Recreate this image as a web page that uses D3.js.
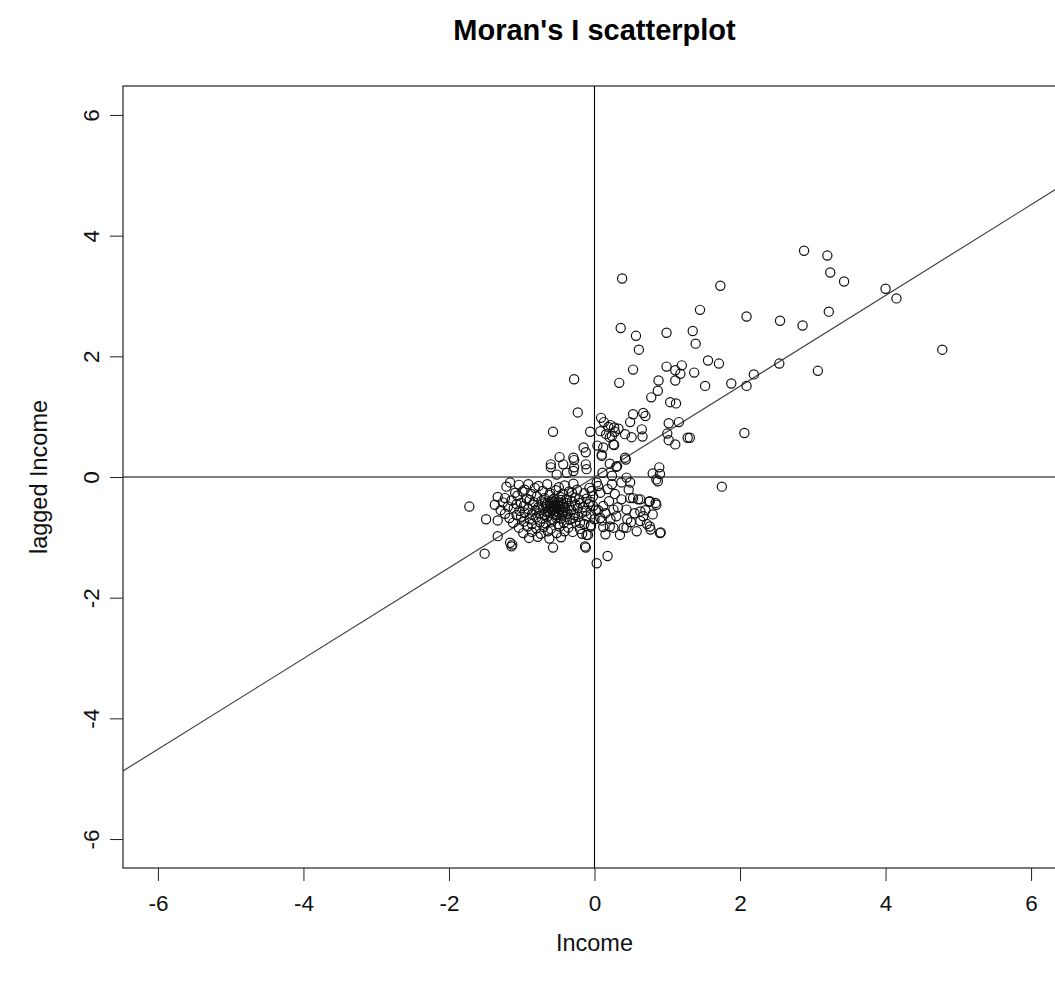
<!DOCTYPE html>
<html>
<head>
<meta charset="utf-8">
<script src="https://cdn.jsdelivr.net/npm/d3@7"></script>
<style>
  body { margin: 0; background: #fff; }
  svg { display: block; font-family: "Liberation Sans", Arial, sans-serif; }
  .tick text { font-size: 22.5px; fill: #111; }
  .tick line { stroke: #222; }
</style>
</head>
<body>
<svg id="chart" width="1055" height="983"></svg>
<script>
// Moran's I scatterplot: standardized income (x) vs spatially lagged income (y)
var xTicks = [-6, -4, -2, 0, 2, 4, 6];
var yTicks = [-6, -4, -2, 0, 2, 4, 6];
var lagSlope = 0.752, lagIntercept = 0.0;

// high income, high neighbours
var upperRight = [
  [0.38,3.29],[2.88,3.75],[3.20,3.67],[3.24,3.39],[3.43,3.24],[1.73,3.17],[4.00,3.12],[4.15,2.96],
  [1.45,2.77],[2.09,2.66],[2.55,2.59],[2.86,2.51],[3.22,2.74],[4.78,2.11],[0.36,2.47],[0.57,2.34],
  [0.61,2.11],[0.99,2.39],[1.35,2.42],[1.39,2.21],[1.56,1.93],[1.71,1.88],[0.53,1.78],[0.99,1.83],
  [1.20,1.85],[1.37,1.73],[1.11,1.77],[1.18,1.71],[1.11,1.60],[0.88,1.60],[0.34,1.56],[1.52,1.51],
  [1.88,1.55],[2.09,1.51],[2.19,1.70],[2.54,1.88],[3.07,1.76],[0.87,1.43],[0.78,1.32],[1.04,1.24],
  [1.12,1.22],[2.06,0.73],[1.28,0.65],[1.31,0.65],[1.02,0.89],[1.16,0.91],[1.00,0.72],[1.02,0.61],
  [1.11,0.54],[0.67,1.06],[0.70,1.01],[0.53,1.04],[0.49,0.91],[0.42,0.71],[0.51,0.66],[0.65,0.79],
  [0.66,0.67],[0.43,0.29],[0.89,0.16]
];

// points around the origin
var nearCentre = [
  [-0.28,1.62],[-0.23,1.07],[0.09,0.98],[0.27,0.82],[0.13,0.91],[0.19,0.83],[0.28,0.75],[0.24,0.68],
  [-0.06,0.75],[-0.57,0.75],[0.08,0.76],[0.21,0.66],[0.12,0.49],[0.26,0.54],[0.27,0.53],[-0.15,0.49],
  [-0.12,0.41],[0.10,0.37],[-0.48,0.33],[-0.28,0.28],[-0.29,0.32],[-0.60,0.21],[-0.60,0.16],[-0.43,0.21],
  [-0.28,0.16],[-0.12,0.21],[0.21,0.22],[0.30,0.17],[0.42,0.32],[0.11,0.07],[0.24,0.02],[0.44,-0.01],
  [0.80,0.06],[0.87,-0.07],[0.90,0.05],[0.85,-0.04],[0.49,-0.09],[1.75,-0.16],[-0.52,0.04],[-0.38,0.07],
  [0.24,-0.12],[0.37,-0.09],[0.47,-0.21],[-0.11,0.13],[-0.29,0.10],[0.31,0.18],[0.10,0.35],
  [0.33,0.80],[0.22,0.86],[0.16,0.71],[0.04,0.52]
];

// low income, low neighbours
var cluster = [
  [-1.72,-0.49],[-1.49,-0.70],[-1.33,-0.33],[-1.33,-0.72],[-1.33,-0.98],[-1.51,-1.27],[-1.16,-0.09],
  [-1.16,-1.09],[-1.13,-1.12],[-1.14,-1.15],[-0.57,-1.17],[-0.12,-1.17],[0.03,-1.43],[0.18,-1.31],
  [-0.41,-0.90],[-0.09,-0.96],[0.12,-0.83],[0.26,-0.84],[0.91,-0.92],[0.77,-0.87],[0.84,-0.43],
  [0.75,-0.41],[0.60,-0.37],[0.53,-0.35],[0.40,-0.84],[0.37,-0.37],[0.49,-0.35],[0.63,-0.37],
  [0.76,-0.40],[0.85,-0.46],[0.26,-0.54],[0.44,-0.54],[0.63,-0.57],[0.67,-0.65],[0.63,-0.73],
  [0.76,-0.82],[0.90,-0.93],[0.58,-0.90],[0.44,-0.84],[0.35,-0.96],[0.21,-0.82],[-0.11,-0.96],
  [-0.13,-1.15],[0.03,-0.09],[-0.02,-0.32],[0.08,-0.26],[0.12,-0.48],[-0.02,-0.48],[-0.11,-0.65],
  [0.08,-0.68],[-0.20,-0.76],[-0.34,-0.71],[-0.43,-0.59],[-0.38,-0.37],[-0.24,-0.21],[-0.20,-0.43],
  [-0.31,-0.26],[-0.96,-0.21],[-0.82,-0.18],[-0.91,-0.12],
  [-1.21,-0.16],[-1.04,-0.13],[-0.77,-0.15],[-0.65,-0.12],[-0.49,-0.17],[-0.41,-0.14],[-0.29,-0.11],[-0.07,-0.18],
  [-1.09,-0.26],[-0.99,-0.24],[-0.87,-0.28],[-0.71,-0.23],[-0.61,-0.27],[-0.53,-0.22],[-0.44,-0.28],[-0.35,-0.24],
  [-0.14,-0.27],[-0.04,-0.23],[-1.23,-0.35],[-1.06,-0.31],[-0.93,-0.36],[-0.79,-0.32],[-0.69,-0.35],[-0.62,-0.30],
  [-0.56,-0.36],[-0.47,-0.33],[-0.27,-0.34],[-0.11,-0.36],[-1.26,-0.42],[-1.14,-0.39],[-1.01,-0.43],[-0.89,-0.38],
  [-0.83,-0.42],[-0.73,-0.40],[-0.65,-0.44],[-0.59,-0.39],[-0.51,-0.42],[-0.46,-0.38],[-0.39,-0.43],[-0.31,-0.40],
  [-0.21,-0.37],[-0.06,-0.41],[-1.37,-0.46],[-1.19,-0.49],[-1.07,-0.45],[-0.97,-0.48],[-0.85,-0.46],[-0.77,-0.50],
  [-0.67,-0.47],[-0.61,-0.45],[-0.57,-0.50],[-0.54,-0.46],[-0.48,-0.49],[-0.44,-0.45],[-0.35,-0.48],[-0.26,-0.46],
  [-0.16,-0.50],[-0.08,-0.45],[-1.29,-0.55],[-1.11,-0.52],[-1.03,-0.56],[-0.91,-0.53],[-0.81,-0.55],[-0.71,-0.52],
  [-0.63,-0.56],[-0.59,-0.53],[-0.55,-0.57],[-0.52,-0.52],[-0.47,-0.55],[-0.41,-0.51],[-0.32,-0.55],[-0.23,-0.52],
  [-0.12,-0.56],[0.02,-0.54],[-1.23,-0.61],[-1.07,-0.63],[-0.96,-0.59],[-0.86,-0.62],[-0.76,-0.60],[-0.69,-0.63],
  [-0.61,-0.59],[-0.56,-0.62],[-0.49,-0.60],[-0.44,-0.64],[-0.37,-0.61],[-0.27,-0.63],[-0.17,-0.59],[-0.05,-0.62],
  [-1.17,-0.68],[-1.01,-0.66],[-0.89,-0.70],[-0.80,-0.67],[-0.72,-0.69],[-0.65,-0.66],[-0.58,-0.70],[-0.53,-0.67],
  [-0.46,-0.69],[-0.39,-0.66],[-0.29,-0.68],[-0.22,-0.66],[0.00,-0.70],[-1.12,-0.76],[-0.97,-0.74],[-0.86,-0.78],
  [-0.75,-0.75],[-0.67,-0.77],[-0.59,-0.74],[-0.50,-0.78],[-0.42,-0.76],[-0.26,-0.74],[-0.14,-0.78],[-1.04,-0.84],
  [-0.92,-0.82],[-0.80,-0.85],[-0.70,-0.83],[-0.60,-0.86],[-0.48,-0.82],[-0.36,-0.84],[-0.20,-0.86],[-0.05,-0.82],
  [-0.98,-0.93],[-0.86,-0.91],[-0.74,-0.94],[-0.64,-0.90],[-0.52,-0.93],[-0.30,-0.91],[-0.17,-0.94],[-0.90,-1.01],
  [-0.78,-0.99],[-0.62,-1.02],[-0.46,-1.00],[0.05,-0.55],[0.15,-0.60],[0.20,-0.40],[0.30,-0.65],[0.18,-0.20],
  [0.28,-0.28],[0.10,-0.72],[0.22,-0.70],[0.32,-0.50],[0.05,-0.15],[-0.05,-0.80],[0.15,-0.95],[0.55,-0.60],
  [0.70,-0.55],[0.50,-0.75],[0.80,-0.62],[0.72,-0.78],[0.45,-0.70],
  [-0.58,-0.44],[-0.55,-0.41],[-0.50,-0.46],[-0.62,-0.52],[-0.53,-0.49],[-0.57,-0.55],[-0.49,-0.53],
  [-0.60,-0.48],[-0.45,-0.58],[-0.66,-0.58],[-0.53,-0.63],[-0.43,-0.49],[-0.68,-0.43],[-0.40,-0.55]
];

(function () {
  var points = upperRight.concat(nearCentre, cluster);

  var svg = d3.select("#chart");
  var left = 123, right = 1066, plotTop = 86, plotBottom = 868;
  var fmt = function (d) { return String(d); }; // plain hyphen like R

  var x = d3.scaleLinear().domain([-6.48, 6.48]).range([left, right]);
  var y = d3.scaleLinear().domain([-6.48, 6.48]).range([plotBottom, plotTop]);

  svg.append("defs").append("clipPath").attr("id", "plotClip")
    .append("rect")
    .attr("x", left).attr("y", plotTop)
    .attr("width", right - left).attr("height", plotBottom - plotTop);

  // axes
  var xAxis = svg.append("g")
    .attr("transform", "translate(0," + plotBottom + ")")
    .call(d3.axisBottom(x).tickValues(xTicks).tickFormat(fmt).tickSize(13).tickSizeOuter(0).tickPadding(0));
  xAxis.select(".domain").remove();
  xAxis.selectAll(".tick text").attr("y", 43).attr("dy", null);

  var yAxis = svg.append("g")
    .attr("transform", "translate(" + left + ",0)")
    .call(d3.axisLeft(y).tickValues(yTicks).tickFormat(fmt).tickSize(13).tickSizeOuter(0).tickPadding(0));
  yAxis.select(".domain").remove();
  yAxis.selectAll(".tick text")
    .attr("x", null).attr("dy", null)
    .attr("text-anchor", "middle")
    .attr("transform", "translate(-24,0) rotate(-90)");

  var plot = svg.append("g").attr("clip-path", "url(#plotClip)");

  // zero reference lines
  plot.append("line")
    .attr("x1", x(0)).attr("x2", x(0)).attr("y1", plotTop).attr("y2", plotBottom)
    .attr("stroke", "#000").attr("stroke-width", 1.1);
  plot.append("line")
    .attr("x1", left).attr("x2", right).attr("y1", y(0)).attr("y2", y(0))
    .attr("stroke", "#000").attr("stroke-width", 1.1);

  // regression line
  plot.append("line")
    .attr("x1", x(-6.48)).attr("y1", y(lagIntercept + lagSlope * -6.48))
    .attr("x2", x(6.48)).attr("y2", y(lagIntercept + lagSlope * 6.48))
    .attr("stroke", "#444").attr("stroke-width", 1.2);

  plot.selectAll("circle.pt")
    .data(points)
    .enter().append("circle")
    .attr("class", "pt")
    .attr("cx", function (d) { return x(d[0]); })
    .attr("cy", function (d) { return y(d[1]); })
    .attr("r", 4.6)
    .attr("fill", "none")
    .attr("stroke", "#111")
    .attr("stroke-width", 1.2);

  // frame
  svg.append("rect")
    .attr("x", left).attr("y", plotTop)
    .attr("width", right - left).attr("height", plotBottom - plotTop)
    .attr("fill", "none").attr("stroke", "#222").attr("stroke-width", 1.2);

  svg.append("text")
    .attr("x", x(0)).attr("y", 40)
    .attr("text-anchor", "middle")
    .attr("font-size", 29).attr("font-weight", "bold")
    .text("Moran's I scatterplot");

  svg.append("text")
    .attr("x", x(0)).attr("y", 951)
    .attr("text-anchor", "middle")
    .attr("font-size", 23.5).attr("fill", "#111")
    .text("Income");

  svg.append("text")
    .attr("transform", "translate(47," + y(0) + ") rotate(-90)")
    .attr("text-anchor", "middle")
    .attr("font-size", 23.5).attr("fill", "#111")
    .text("lagged Income");
})();
</script>
</body>
</html>
